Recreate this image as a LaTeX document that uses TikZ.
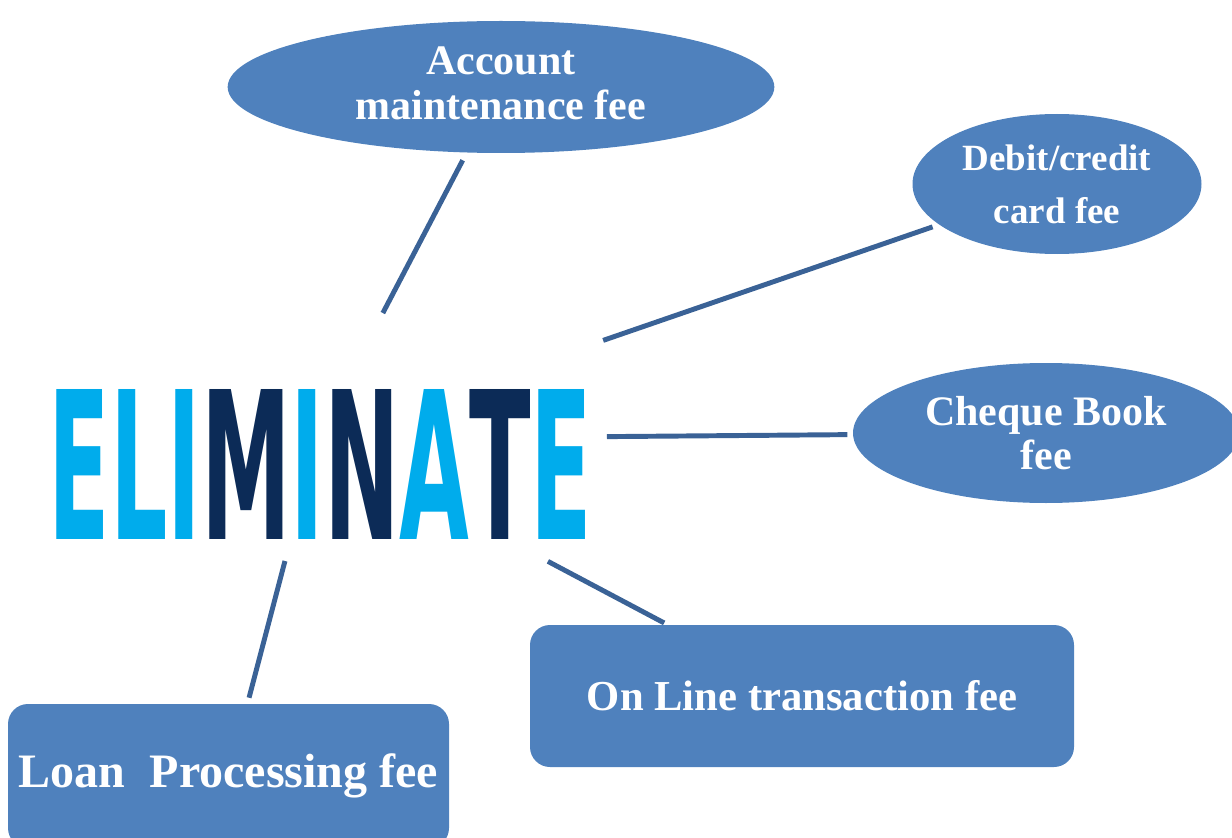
\documentclass[tikz,border=0pt]{standalone}
\usepackage{fontspec}
\usepackage{graphicx}
\setmainfont{Liberation Serif}
\newfontfamily\elimfont{DejaVu Sans}
\usetikzlibrary{shapes.geometric}
\definecolor{boxblue}{RGB}{79,129,189}
\definecolor{linkblue}{RGB}{58,98,150}
\definecolor{elimlight}{RGB}{0,172,236}
\definecolor{elimdark}{RGB}{12,43,87}
\begin{document}
\begin{tikzpicture}[x=0.75pt,y=-0.75pt,
  bubble/.style={ellipse, fill=boxblue, draw=none, inner sep=0pt, text=white, align=center},
  tile/.style={rectangle, rounded corners=15pt, fill=boxblue, draw=none, inner sep=0pt, text=white, align=center},
  link/.style={draw=linkblue, line width=3.7pt}]
\useasboundingbox (0,0) rectangle (1232,838);
\clip (0,0) rectangle (1232,838);

\node[bubble, minimum width=410pt, minimum height=99pt,
  font=\fontsize{31.5pt}{34pt}\selectfont\bfseries] (acc) at (501,87) {Account\\maintenance fee\rule[-6pt]{0pt}{0pt}};
\node[bubble, minimum width=216.75pt, minimum height=105pt,
  font=\fontsize{27.75pt}{39.75pt}\selectfont\bfseries] (deb) at (1057,184) {Debit/credit\\card fee};
\node[bubble, minimum width=289.5pt, minimum height=105pt,
  font=\fontsize{31.5pt}{33pt}\selectfont\bfseries] (chq) at (1046,433) {Cheque Book\\fee};
\node[tile, minimum width=408pt, minimum height=106.5pt,
  font=\fontsize{32pt}{36pt}\selectfont\bfseries] (onl) at (802,696) {On Line transaction fee};
\node[tile, minimum width=330.75pt, minimum height=108pt,
  font=\fontsize{36pt}{40pt}\selectfont\bfseries] (loan) at (228.5,776) {Loan\ \ Processing fee};

\node[inner sep=0pt] (elim) at (320.5,464)
  {\resizebox{408pt}{112.5pt}{\elimfont\bfseries\textcolor{elimlight}{ELI}\textcolor{elimdark}{M}\textcolor{elimlight}{I}\textcolor{elimdark}{N}\textcolor{elimlight}{A}\textcolor{elimdark}{T}\textcolor{elimlight}{E}}};
\coordinate (hub) at (317,439);

\draw[link, shorten <=62pt, shorten >=106.6pt] (acc.center) -- (hub);
\draw[link, shorten <=98.7pt, shorten >=227pt] (deb.center) -- (hub);
\draw[link, shorten <=149pt, shorten >=217.5pt] (chq.center) -- (hub);
\draw[link, shorten <=117pt, shorten >=196pt] (onl.center) -- (hub);
\draw[link, shorten <=60.7pt, shorten >=94.6pt] (loan.center) -- (hub);
\end{tikzpicture}
\end{document}
